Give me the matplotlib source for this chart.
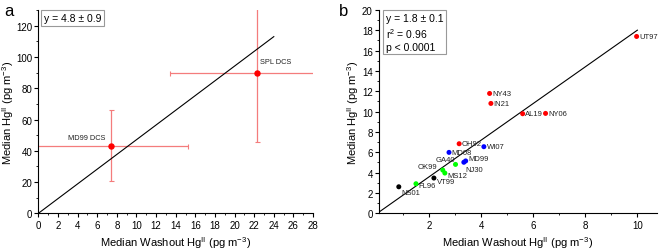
import numpy as np
import matplotlib
matplotlib.use("Agg")
from matplotlib import pyplot as plt
from matplotlib.ticker import MultipleLocator

plt.rcParams['font.family'] = ['Liberation Sans', 'DejaVu Sans']
plt.rcParams['mathtext.fontset'] = 'custom'
plt.rcParams['mathtext.rm'] = 'Liberation Sans'
plt.rcParams['mathtext.it'] = 'Liberation Sans'

# panel a: deep convective sites
a_names = ['MD99 DCS', 'SPL DCS']
a_x = [7.44, 22.32]
a_y = [43.3, 89.8]
a_xerr = [7.8, 8.9]
a_yerr = [22.9, 44.4]
a_off = [(-18, 5.5), (2, 8.4)]
a_fit_x = [0, 24.0]
a_fit_y = [0, 113.0]

# panel b: surface sites
b_names = ['UT97', 'NY43', 'IN21', 'AL19', 'NY06', 'OH92', 'WI07', 'MD08',
           'MD99', 'NJ30', 'GA40', 'OK99', 'MS12', 'VT99', 'FL96', 'NS01']
b_x = [9.97, 4.32, 4.37, 5.59, 6.47, 3.15, 4.10, 2.76,
       3.40, 3.33, 3.01, 2.52, 2.60, 2.18, 1.49, 0.83]
b_y = [17.38, 11.78, 10.80, 9.79, 9.82, 6.84, 6.55, 5.99,
       5.15, 5.02, 4.81, 4.25, 3.96, 3.47, 2.91, 2.61]
b_col = ['#ff0000'] * 6 + ['#0000ff'] * 4 + ['#00ff00'] * 3 + ['#000000', '#00ff00', '#000000']
# label offsets in points
b_off = [(2, 0), (2, 0), (2, 0), (2, 0), (2, 0), (2, 0), (2, 0), (2, 0),
         (2, 2), (1, -5), (-14, 3.5), (-18, 2.5), (2, -1.5), (2, -2.5), (2, -1), (2, -4)]
b_fit_x = [0.1, 10.0]
b_fit_y = [0.18, 18.0]

xlab = r'Median Washout Hg$^{\mathrm{II}}$ (pg m$^{-3}$)'
ylab = r'Median Hg$^{\mathrm{II}}$ (pg m$^{-3}$)'


def style_axes(ax):
    for s in ['top', 'right']:
        ax.spines[s].set_visible(False)
    for s in ['left', 'bottom']:
        ax.spines[s].set_linewidth(0.8)
    ax.tick_params(which='major', direction='out', length=3, width=0.8, labelsize=7, pad=1.5)
    ax.tick_params(which='minor', direction='out', length=1.5, width=0.6)


fig = plt.figure(figsize=(6.61, 2.51), dpi=100)

# ---- panel a
ax1 = fig.add_axes([0.058, 0.146, 0.4156, 0.81])
ax1.plot(a_fit_x, a_fit_y, color='black', lw=0.8, zorder=2)
ax1.errorbar(a_x, a_y, xerr=a_xerr, yerr=a_yerr, fmt='none', ecolor='#f47c7c',
             elinewidth=0.9, capsize=1.8, capthick=0.8, zorder=1)
ax1.plot(a_x, a_y, 'o', color='#ff0000', ms=3.6, zorder=3)
for name, x, y, off in zip(a_names, a_x, a_y, a_off):
    ax1.annotate(name, (x, y), xytext=off, textcoords='offset points',
                 fontsize=5.3, color='#222222', ha='left' if off[0] > 0 else 'center',
                 va='center')
ax1.set_xlim(0, 28)
ax1.set_ylim(0, 130)
ax1.xaxis.set_major_locator(MultipleLocator(2))
ax1.xaxis.set_minor_locator(MultipleLocator(1))
ax1.yaxis.set_major_locator(MultipleLocator(20))
ax1.yaxis.set_minor_locator(MultipleLocator(10))
style_axes(ax1)
ax1.set_xlabel(xlab, fontsize=8, labelpad=3)
ax1.set_ylabel(ylab, fontsize=8, labelpad=0)
ax1.text(0.02, 0.985, 'y = 4.8 ± 0.9', transform=ax1.transAxes, fontsize=7.5,
         va='top', ha='left',
         bbox=dict(boxstyle='square,pad=0.25', fc='white', ec='#999999', lw=0.8))
fig.text(0.006, 0.985, 'a', fontsize=12, va='top', ha='left')

# ---- panel b
ax2 = fig.add_axes([0.5734, 0.146, 0.4204, 0.811])
ax2.plot(b_fit_x, b_fit_y, color='black', lw=0.8, zorder=2)
ax2.scatter(b_x, b_y, s=13, c=b_col, edgecolors='none', zorder=3)
for name, x, y, off in zip(b_names, b_x, b_y, b_off):
    ax2.annotate(name, (x, y), xytext=off, textcoords='offset points',
                 fontsize=5.5, color='#222222', ha='left', va='center')
ax2.set_xlim(0.07, 10.75)
ax2.set_ylim(0, 20)
ax2.xaxis.set_major_locator(MultipleLocator(2))
ax2.xaxis.set_minor_locator(MultipleLocator(1))
ax2.yaxis.set_major_locator(MultipleLocator(2))
ax2.yaxis.set_minor_locator(MultipleLocator(1))
style_axes(ax2)
ax2.set_xlabel(xlab, fontsize=8, labelpad=3)
ax2.set_ylabel(ylab, fontsize=8, labelpad=1)
ax2.text(0.025, 0.985, 'y = 1.8 ± 0.1\nr$^{2}$ = 0.96\np < 0.0001', transform=ax2.transAxes,
         fontsize=7.5, va='top', ha='left', linespacing=1.25,
         bbox=dict(boxstyle='square,pad=0.25', fc='white', ec='#999999', lw=0.8))
fig.text(0.513, 0.985, 'b', fontsize=12, va='top', ha='left')

fig.savefig('out.png', dpi=100)
